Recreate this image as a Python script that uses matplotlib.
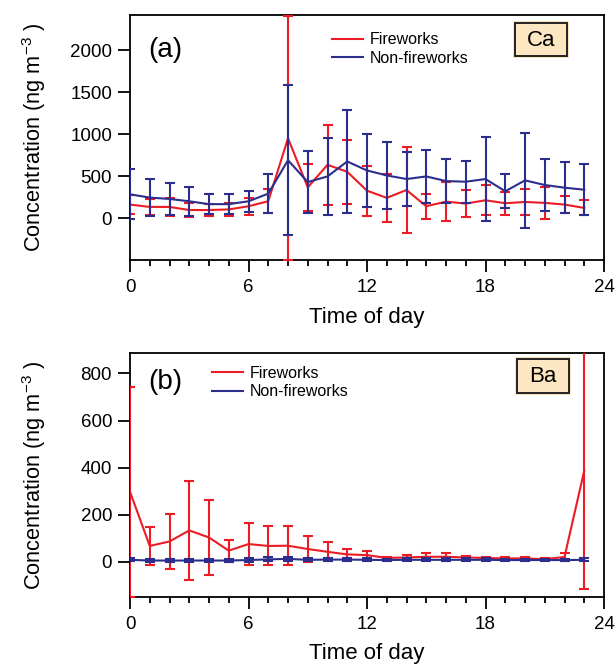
import matplotlib
matplotlib.use("Agg")
import matplotlib.pyplot as plt
from matplotlib.ticker import MultipleLocator
from matplotlib.lines import Line2D
from matplotlib.patches import Rectangle

plt.rcParams['font.family'] = ['Liberation Sans', 'DejaVu Sans']
plt.rcParams['mathtext.fontset'] = 'custom'
plt.rcParams['mathtext.rm'] = 'Liberation Sans'
plt.rcParams['mathtext.it'] = 'Liberation Sans:italic'

hours = list(range(24))

# Panel (a): Ca
ca_fw = [160, 132, 132, 95, 95, 102, 140, 200, 950, 365, 633, 550, 325, 240, 333, 140,
         195, 172, 211, 176, 191, 180, 160, 120]
ca_fw_err = [108, 93, 103, 79, 75, 73, 103, 140, 1450, 280, 473, 380, 296, 286, 507, 148,
             233, 158, 177, 138, 150, 193, 106, 90]
ca_nf = [282, 243, 227, 199, 165, 165, 199, 290, 688, 428, 495, 673, 566, 507, 464, 495,
         440, 432, 464, 318, 448, 393, 361, 337]
ca_nf_err = [296, 223, 191, 175, 118, 118, 128, 235, 890, 367, 457, 615, 438, 396, 316, 320,
             264, 252, 500, 203, 564, 308, 306, 306]
ca_yticks = [0, 500, 1000, 1500, 2000]

# Panel (b): Ba
ba_fw = [297, 67, 86, 133, 103, 47, 75, 67, 68, 54, 42, 31, 28, 16, 18, 21,
         21, 18, 16, 14, 14, 11, 20, 387]
ba_fw_err = [446, 82, 117, 212, 158, 47, 88, 83, 83, 57, 41, 24, 17, 5, 9, 15,
             16, 6, 5, 4, 4, 3, 17, 505]
ba_nf = [8, 5, 5, 5, 5, 5, 7, 10, 12, 8, 9, 9, 8, 7, 8, 8,
         8, 8, 8, 7, 7, 7, 7, 8]
ba_nf_err = [7, 6, 6, 6, 6, 6, 7, 8, 10, 7, 7, 7, 7, 6, 7, 7,
             7, 7, 7, 6, 6, 6, 6, 7]
ba_yticks = [0, 200, 400, 600, 800]

RED = '#EC1C24'
BLUE = '#2B2E8C'

fig = plt.figure(figsize=(6.15, 6.65), dpi=100)
W, H = 615, 665


def fx(px):
    return px / W


def fy(py):
    return 1 - py / H


def add_ax(left, top, right, bottom):
    return fig.add_axes([fx(left), fy(bottom), (right - left) / W, (bottom - top) / H])


axA = add_ax(130, 15, 604, 260)
axB = add_ax(130, 353, 604, 597)


def draw(ax, fw, fwe, nf, nfe, ylim, yticks, label, elem, leg_xy, lab_y, box, xlab_y):
    ax.errorbar(hours, fw, yerr=fwe, color=RED, lw=1.5, elinewidth=1.5,
                capsize=3.6, capthick=1.5, zorder=3)
    ax.errorbar(hours, nf, yerr=nfe, color=BLUE, lw=1.5, elinewidth=1.5,
                capsize=3.6, capthick=1.5, zorder=4)
    ax.set_xlim(0, 24)
    ax.set_ylim(*ylim)
    ax.xaxis.set_major_locator(MultipleLocator(6))
    ax.xaxis.set_minor_locator(MultipleLocator(1))
    ax.set_yticks(yticks)
    ax.tick_params(axis='x', which='major', direction='out', length=8.6, width=1.3,
                   labelsize=13.5, pad=5.0)
    ax.tick_params(axis='x', which='minor', direction='out', length=4.3, width=1.3)
    ax.tick_params(axis='y', which='major', direction='out', length=8.6, width=1.3,
                   labelsize=13.5, pad=4.3)
    for s in ax.spines.values():
        s.set_linewidth(1.3)
    ax.set_xlabel('Time of day', fontsize=16)
    ax.xaxis.set_label_coords(0.5, xlab_y)
    ax.set_ylabel('Concentration (ng m$^{-3}$ )', fontsize=15.7)
    ax.yaxis.set_label_coords(-0.172, 0.5)
    ax.text(0.075, lab_y, label, transform=ax.transAxes, fontsize=20,
            va='center', ha='center')
    # element box
    x0, y0, x1, y1 = box
    fig.patches.append(Rectangle((fx(x0 - 2), fy(y1 + 2)), (x1 - x0 + 4) / W, (y1 - y0 + 4) / H,
                                 transform=fig.transFigure, facecolor='#FCE3BE',
                                 edgecolor='none', zorder=5))
    fig.patches.append(Rectangle((fx(x0), fy(y1)), (x1 - x0) / W, (y1 - y0) / H,
                                 transform=fig.transFigure, facecolor='#FDE6C2',
                                 edgecolor='#222222', lw=1.4, zorder=6))
    fig.text(fx((x0 + x1) / 2), fy((y0 + y1) / 2 + 1), elem, fontsize=16,
             ha='center', va='center', zorder=7)
    handles = [Line2D([], [], color=RED, lw=1.5), Line2D([], [], color=BLUE, lw=1.5)]
    ax.legend(handles, ['Fireworks', 'Non-fireworks'], loc='upper left',
              bbox_to_anchor=leg_xy, frameon=False, fontsize=11.5, handlelength=1.95,
              handletextpad=0.4, labelspacing=0.22, borderaxespad=0, borderpad=0)


draw(axA, ca_fw, ca_fw_err, ca_nf, ca_nf_err, (-500, 2417), ca_yticks, '(a)', 'Ca',
     (0.426, 0.929), 0.857, (515, 23, 567, 56), -0.19)
draw(axB, ba_fw, ba_fw_err, ba_nf, ba_nf_err, (-150, 887), ba_yticks, '(b)', 'Ba',
     (0.173, 0.947), 0.881, (517, 359, 569, 393), -0.19)

fig.savefig('out.png', dpi=100)
